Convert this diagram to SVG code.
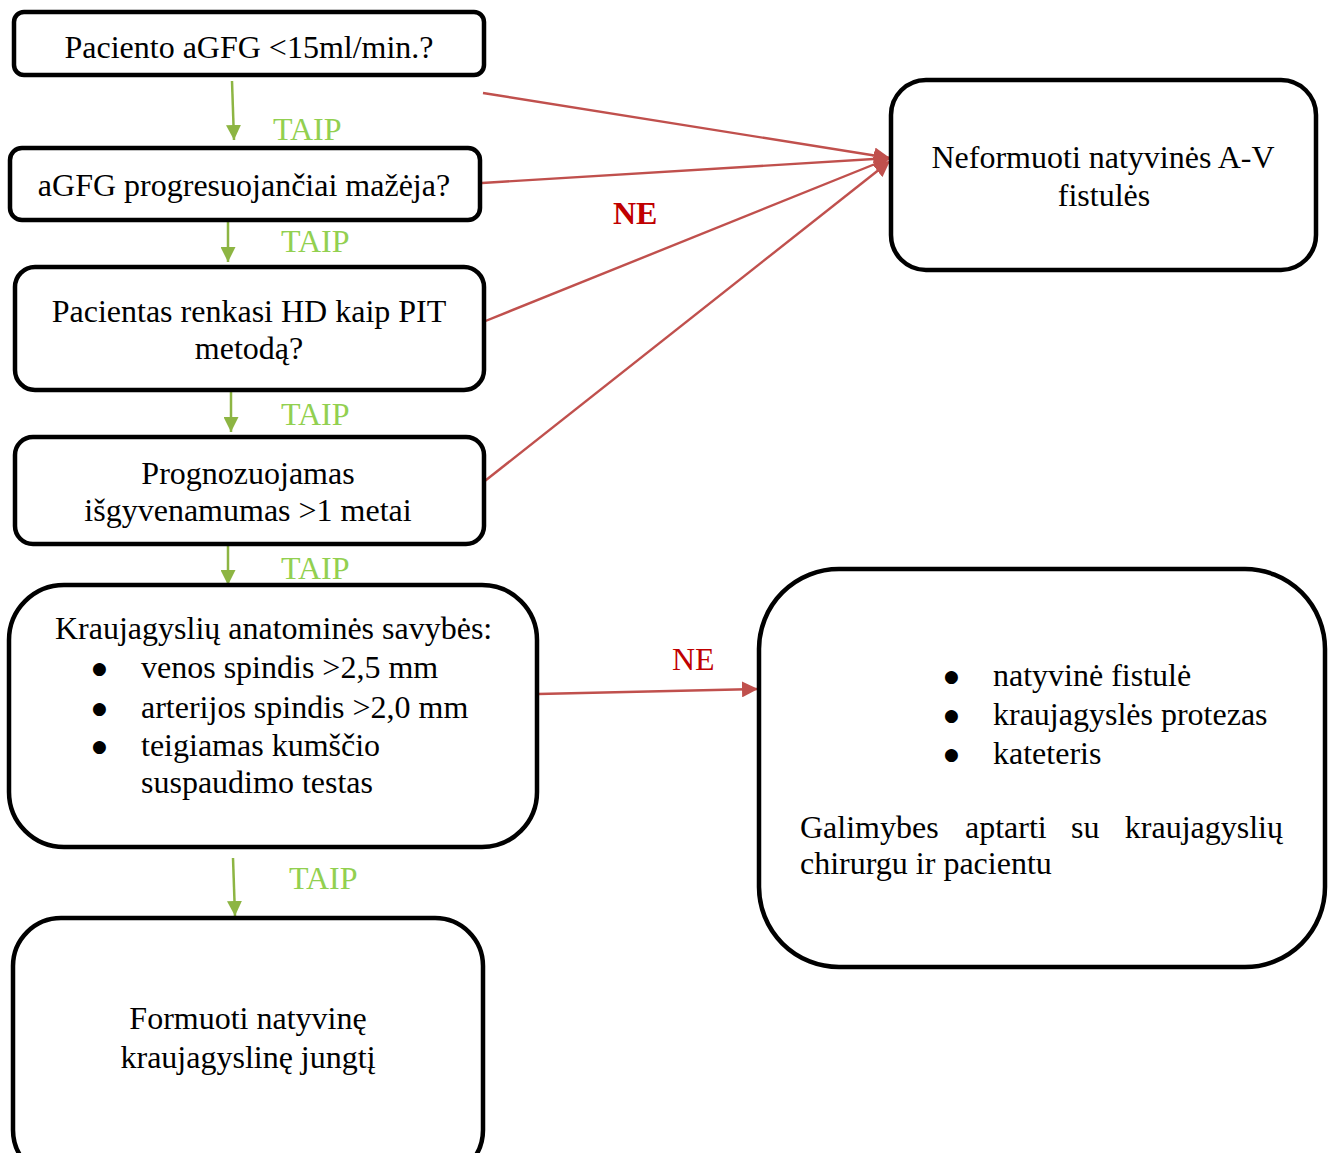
<svg xmlns="http://www.w3.org/2000/svg" width="1335" height="1153" viewBox="0 0 1335 1153">
<style>
.box{fill:#fff;stroke:#000;stroke-width:4.5}
.t{font-family:"Liberation Serif","Times New Roman",serif;font-size:32px;fill:#000}
.c{text-anchor:middle}
.b{font-family:"DejaVu Sans","Liberation Sans",sans-serif;font-size:17px;fill:#000}
.taip{font-family:"Liberation Serif","Times New Roman",serif;font-size:32px;fill:#92D050}
.ne{font-family:"Liberation Serif","Times New Roman",serif;font-size:32px;fill:#C00000}
.g{stroke:#8DB543;stroke-width:2.5;fill:none}
.r{stroke:#C0504D;stroke-width:2.4;fill:none}
</style>
<defs>
<marker id="ag" viewBox="0 0 10 10" refX="10" refY="5" markerWidth="15" markerHeight="15" markerUnits="userSpaceOnUse" orient="auto">
<path d="M0,0 L10,5 L0,10 z" fill="#8DB543"/>
</marker>
<marker id="ar" viewBox="0 0 10 10" refX="10" refY="5" markerWidth="16" markerHeight="16" markerUnits="userSpaceOnUse" orient="auto">
<path d="M0,0 L10,5 L0,10 z" fill="#C0504D"/>
</marker>
</defs>
<rect width="1335" height="1153" fill="#fff"/>

<g id="connectors">
<line class="g" x1="232" y1="81" x2="234" y2="140" marker-end="url(#ag)"/>
<line class="g" x1="228" y1="213" x2="228" y2="262" marker-end="url(#ag)"/>
<line class="g" x1="231" y1="385" x2="231" y2="432" marker-end="url(#ag)"/>
<line class="g" x1="228" y1="543" x2="228" y2="585" marker-end="url(#ag)"/>
<line class="g" x1="233" y1="858" x2="235" y2="916" marker-end="url(#ag)"/>
<line class="r" x1="483" y1="93" x2="890" y2="158" marker-end="url(#ar)"/>
<line class="r" x1="482" y1="183" x2="890" y2="158" marker-end="url(#ar)"/>
<line class="r" x1="478" y1="324" x2="890" y2="158" marker-end="url(#ar)"/>
<line class="r" x1="481" y1="484" x2="890" y2="161" marker-end="url(#ar)"/>
<line class="r" x1="538" y1="694" x2="758" y2="689" marker-end="url(#ar)"/>
<text class="taip" x="273" y="140">TAIP</text>
<text class="taip" x="281" y="252">TAIP</text>
<text class="taip" x="281" y="425">TAIP</text>
<text class="taip" x="281" y="579">TAIP</text>
<text class="taip" x="289" y="889">TAIP</text>
<text class="ne" x="613" y="224" font-weight="bold">NE</text>
<text class="ne" x="672" y="670">NE</text>
</g>

<g id="n1">
<rect class="box" x="14" y="12" width="470" height="63" rx="10"/>
<text class="t c" x="249" y="58">Paciento aGFG &lt;15ml/min.?</text>
</g>
<g id="n2">
<rect class="box" x="10" y="148" width="470" height="72" rx="12"/>
<text class="t c" x="244" y="196">aGFG progresuojančiai mažėja?</text>
</g>
<g id="n3">
<rect class="box" x="15" y="267" width="469" height="123" rx="20"/>
<text class="t c" x="249" y="322">Pacientas renkasi HD kaip PIT</text>
<text class="t c" x="249" y="359">metodą?</text>
</g>
<g id="n4">
<rect class="box" x="15" y="437" width="469" height="107" rx="18"/>
<text class="t c" x="248" y="484">Prognozuojamas</text>
<text class="t c" x="248" y="521">išgyvenamumas &gt;1 metai</text>
</g>
<g id="n5">
<rect class="box" x="9" y="585" width="528" height="262" rx="55"/>
<text class="t" x="55" y="639">Kraujagyslių anatominės savybės:</text>
<text class="b" x="92" y="674">●</text><text class="t" x="141" y="678">venos spindis &gt;2,5 mm</text>
<text class="b" x="92" y="714">●</text><text class="t" x="141" y="718">arterijos spindis &gt;2,0 mm</text>
<text class="b" x="92" y="752">●</text><text class="t" x="141" y="756">teigiamas kumščio</text>
<text class="t" x="141" y="793">suspaudimo testas</text>
</g>
<g id="n6">
<rect class="box" x="13" y="918" width="470" height="260" rx="48"/>
<text class="t c" x="248" y="1029">Formuoti natyvinę</text>
<text class="t c" x="248" y="1068">kraujagyslinę jungtį</text>
</g>
<g id="n7">
<rect class="box" x="891" y="80" width="425" height="190" rx="35"/>
<text class="t c" x="1103" y="168">Neformuoti natyvinės A-V</text>
<text class="t c" x="1104" y="206">fistulės</text>
</g>
<g id="n8">
<rect class="box" x="759" y="569" width="566" height="398" rx="80"/>
<text class="b" x="944" y="682">●</text><text class="t" x="993" y="686">natyvinė fistulė</text>
<text class="b" x="944" y="721">●</text><text class="t" x="993" y="725">kraujagyslės protezas</text>
<text class="b" x="944" y="760">●</text><text class="t" x="993" y="764">kateteris</text>
<text class="t" x="800" y="838">Galimybes</text>
<text class="t" x="965" y="838">aptarti</text>
<text class="t" x="1071" y="838">su</text>
<text class="t" x="1283" y="838" text-anchor="end">kraujagyslių</text>
<text class="t" x="800" y="874">chirurgu ir pacientu</text>
</g>
</svg>
